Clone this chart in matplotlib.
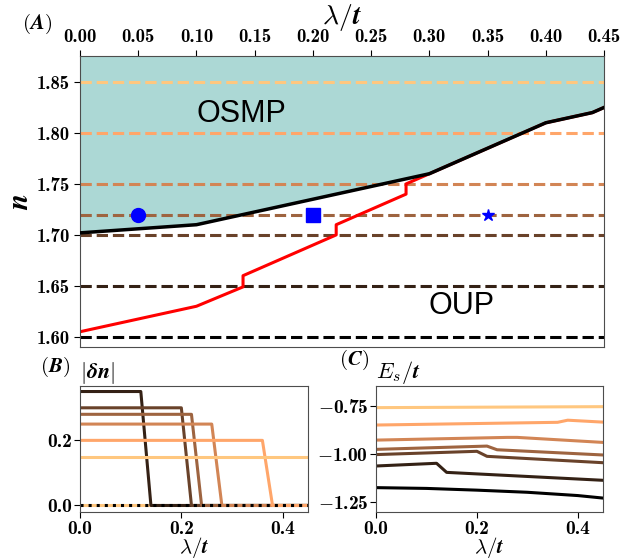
import numpy as np
import matplotlib
matplotlib.use("Agg")
import matplotlib.pyplot as plt
from matplotlib.ticker import FixedLocator, FuncFormatter

plt.rcParams["mathtext.fontset"] = "cm"
plt.rcParams["axes.edgecolor"] = "0.3"
plt.rcParams["axes.unicode_minus"] = False

# electron fillings (dashed lines in A, one curve per filling in B and C)
n_levels = [1.60, 1.65, 1.70, 1.72, 1.75, 1.80, 1.85]

# OSMP / OUP phase boundary (black) and second boundary (red)
lam_osmp = [0.00, 0.10, 0.30, 0.40, 0.44, 0.45]
n_osmp = [1.702, 1.710, 1.760, 1.810, 1.820, 1.825]
lam_red = [0.00, 0.10, 0.14, 0.14, 0.22, 0.22, 0.28, 0.28, 0.30, 0.40, 0.44, 0.45]
n_red = [1.605, 1.630, 1.649, 1.660, 1.700, 1.710, 1.740, 1.750, 1.760, 1.810, 1.820, 1.825]

# selected points at n = 1.72
mark_lam = [0.05, 0.20, 0.35]
mark_n = [1.72, 1.72, 1.72]
mark_sym = ["o", "s", "*"]
mark_size = [10, 10, 9]

# panel B: |delta n| vs lambda/t
dn_lam = [
    [0.00, 0.45],
    [0.00, 0.12, 0.14, 0.45],
    [0.00, 0.20, 0.22, 0.45],
    [0.00, 0.22, 0.24, 0.45],
    [0.00, 0.26, 0.28, 0.45],
    [0.00, 0.36, 0.38, 0.45],
    [0.00, 0.45],
]
dn_val = [
    [0.0, 0.0],
    [0.35, 0.35, 0.0, 0.0],
    [0.30, 0.30, 0.0, 0.0],
    [0.28, 0.28, 0.0, 0.0],
    [0.25, 0.25, 0.0, 0.0],
    [0.20, 0.20, 0.0, 0.0],
    [0.15, 0.15],
]
dn_zero_lam = [0.00, 0.45]
dn_zero_val = [0.0, 0.0]

# panel C: E_s/t vs lambda/t
es_lam = [
    [0.00, 0.10, 0.20, 0.30, 0.40, 0.45],
    [0.00, 0.12, 0.14, 0.45],
    [0.00, 0.20, 0.22, 0.45],
    [0.00, 0.22, 0.24, 0.45],
    [0.00, 0.26, 0.28, 0.45],
    [0.00, 0.36, 0.38, 0.45],
    [0.00, 0.45],
]
es_val = [
    [-1.174, -1.178, -1.187, -1.198, -1.215, -1.228],
    [-1.062, -1.048, -1.095, -1.136],
    [-1.003, -0.986, -1.012, -1.045],
    [-0.976, -0.959, -0.978, -1.005],
    [-0.928, -0.914, -0.914, -0.940],
    [-0.850, -0.836, -0.825, -0.835],
    [-0.760, -0.755],
]

colors = plt.cm.copper(np.linspace(0, 1, len(n_levels)))


def bold_fmt(digits):
    """ tick labels in bold computer modern, minus from mathtext """
    def f(v, pos):
        s = "%.*f" % (digits, abs(v))
        return (r"$-$" + s) if v < 0 else s
    return FuncFormatter(f)


def style_ticks(a, size):
    for lab in a.get_xticklabels() + a.get_yticklabels():
        lab.set_family("cmb10")
        lab.set_fontsize(size)


fig = plt.figure(figsize=(6.34, 5.59), dpi=100)
ax = fig.add_axes([0.1262, 0.3792, 0.8265, 0.5206])
axb = fig.add_axes([0.1262, 0.0841, 0.3596, 0.2254])
axc = fig.add_axes([0.5931, 0.0841, 0.3580, 0.2254])

# --- panel A ---
ax.fill_between(lam_osmp, n_osmp, 2.0, color="#acd8d5", lw=0, zorder=0)
for n, c in zip(n_levels, colors):
    ax.axhline(n, color=c, ls="--", lw=2.2, zorder=1)
ax.plot(lam_red, n_red, color="red", lw=2.2, zorder=2)
ax.plot(lam_osmp, n_osmp, color="black", lw=2.5, zorder=3)
for x, y, m, s in zip(mark_lam, mark_n, mark_sym, mark_size):
    ax.plot(x, y, marker=m, color="blue", ms=s, ls="none", zorder=4)

ax.text(0.139, 1.819, "OSMP", fontsize=22, family="Liberation Sans", ha="center", va="center")
ax.text(0.328, 1.630, "OUP", fontsize=22, family="Liberation Sans", ha="center", va="center")

ax.set_xlim(0, 0.45)
ax.set_ylim(1.59, 1.8755)
ax.xaxis.tick_top()
ax.xaxis.set_label_position("top")
ax.xaxis.set_major_locator(FixedLocator(np.arange(0, 0.451, 0.05)))
ax.yaxis.set_major_locator(FixedLocator(np.arange(1.60, 1.851, 0.05)))
ax.xaxis.set_major_formatter(bold_fmt(2))
ax.yaxis.set_major_formatter(bold_fmt(2))
ax.tick_params(length=4, pad=3)
ax.set_xlabel(r"$\boldsymbol{\lambda/t}$", fontsize=20, labelpad=3)
ax.set_ylabel(r"$\boldsymbol{n}$", fontsize=21, labelpad=2)
fig.text(0.058, 0.957, r"$\boldsymbol{(A)}$", fontsize=15, ha="center", va="center")

# --- panel B ---
axb.plot(dn_zero_lam, dn_zero_val, color=colors[-1], lw=2.2)
for i in range(1, len(n_levels)):
    axb.plot(dn_lam[i], dn_val[i], color=colors[i], lw=2.2)
axb.plot(dn_lam[0], dn_val[0], color=colors[0], lw=2.2, ls=":")
axb.set_xlim(0, 0.45)
axb.set_ylim(-0.02, 0.367)
axb.xaxis.set_major_locator(FixedLocator([0.0, 0.2, 0.4]))
axb.yaxis.set_major_locator(FixedLocator([0.0, 0.2]))
axb.xaxis.set_major_formatter(bold_fmt(1))
axb.yaxis.set_major_formatter(bold_fmt(1))
axb.tick_params(length=4, pad=1.5)
axb.set_xlabel(r"$\boldsymbol{\lambda/t}$", fontsize=15, labelpad=-2)
axb.set_title(r"$\boldsymbol{|\delta n|}$", loc="left", fontsize=16, pad=3)
fig.text(0.087, 0.343, r"$\boldsymbol{(B)}$", fontsize=15, ha="center", va="center")

# --- panel C ---
for i in range(len(n_levels)):
    axc.plot(es_lam[i], es_val[i], color=colors[i], lw=2.2)
axc.set_xlim(0, 0.45)
axc.set_ylim(-1.30, -0.648)
axc.xaxis.set_major_locator(FixedLocator([0.0, 0.2, 0.4]))
axc.yaxis.set_major_locator(FixedLocator([-1.25, -1.00, -0.75]))
axc.xaxis.set_major_formatter(bold_fmt(1))
axc.yaxis.set_major_formatter(bold_fmt(2))
axc.tick_params(length=4, pad=1.5)
axc.set_xlabel(r"$\boldsymbol{\lambda/t}$", fontsize=15, labelpad=-2)
axc.set_title(r"$\boldsymbol{E_s/t}$", loc="left", fontsize=16, pad=3)
fig.text(0.558, 0.356, r"$\boldsymbol{(C)}$", fontsize=15, ha="center", va="center")

fig.canvas.draw()
style_ticks(ax, 13.5)
style_ticks(axb, 14)
style_ticks(axc, 14)

plt.savefig("out.png", dpi=100)
